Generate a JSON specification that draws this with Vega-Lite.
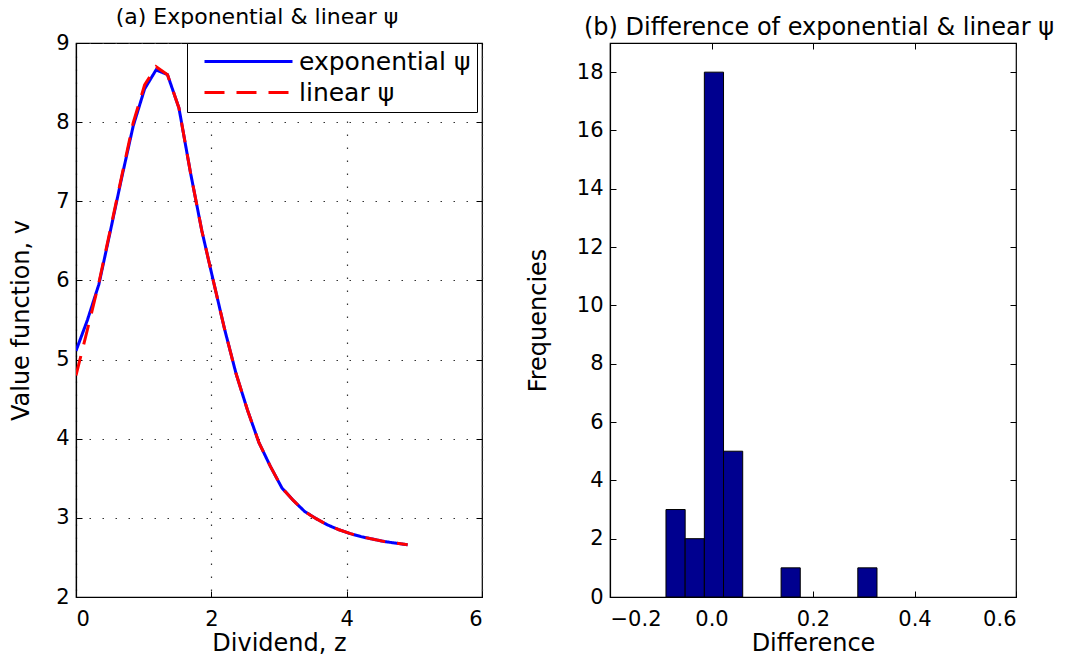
{
  "$schema": "https://vega.github.io/schema/vega-lite/v6.json",
  "padding": {"left": 8, "top": 5, "right": 0, "bottom": 0},
  "background": "white",
  "bounds": "flush",
  "spacing": 128,
  "config": {
    "font": "DejaVu Sans",
    "view": {"stroke": "black", "strokeWidth": 1.2},
    "axis": {
      "labelFont": "DejaVu Sans", "titleFont": "DejaVu Sans",
      "labelFontSize": 21, "titleFontSize": 24, "titleFontWeight": "normal",
      "labelColor": "black", "titleColor": "black",
      "domainColor": "black", "domainWidth": 1.2, "tickColor": "black", "tickWidth": 1,
      "tickSize": -6, "labelPadding": 13
    },
    "title": {"font": "DejaVu Sans", "fontSize": 22, "fontWeight": "normal", "color": "black", "offset": 3},
    "legend": {"labelFont": "DejaVu Sans", "labelFontSize": 25, "labelColor": "black", "labelLimit": 400}
  },
  "datasets": {
    "curves": [
      {"z": 0.000, "v": 5.11, "series": "exponential ψ"},
      {"z": 0.169, "v": 5.50, "series": "exponential ψ"},
      {"z": 0.338, "v": 5.95, "series": "exponential ψ"},
      {"z": 0.507, "v": 6.62, "series": "exponential ψ"},
      {"z": 0.676, "v": 7.30, "series": "exponential ψ"},
      {"z": 0.845, "v": 7.95, "series": "exponential ψ"},
      {"z": 1.014, "v": 8.42, "series": "exponential ψ"},
      {"z": 1.183, "v": 8.66, "series": "exponential ψ"},
      {"z": 1.352, "v": 8.60, "series": "exponential ψ"},
      {"z": 1.521, "v": 8.18, "series": "exponential ψ"},
      {"z": 1.690, "v": 7.37, "series": "exponential ψ"},
      {"z": 1.859, "v": 6.63, "series": "exponential ψ"},
      {"z": 2.028, "v": 6.00, "series": "exponential ψ"},
      {"z": 2.197, "v": 5.38, "series": "exponential ψ"},
      {"z": 2.366, "v": 4.82, "series": "exponential ψ"},
      {"z": 2.535, "v": 4.36, "series": "exponential ψ"},
      {"z": 2.704, "v": 3.95, "series": "exponential ψ"},
      {"z": 2.873, "v": 3.65, "series": "exponential ψ"},
      {"z": 3.042, "v": 3.38, "series": "exponential ψ"},
      {"z": 3.211, "v": 3.22, "series": "exponential ψ"},
      {"z": 3.380, "v": 3.08, "series": "exponential ψ"},
      {"z": 3.549, "v": 2.99, "series": "exponential ψ"},
      {"z": 3.718, "v": 2.91, "series": "exponential ψ"},
      {"z": 3.887, "v": 2.85, "series": "exponential ψ"},
      {"z": 4.056, "v": 2.80, "series": "exponential ψ"},
      {"z": 4.225, "v": 2.76, "series": "exponential ψ"},
      {"z": 4.394, "v": 2.73, "series": "exponential ψ"},
      {"z": 4.563, "v": 2.70, "series": "exponential ψ"},
      {"z": 4.732, "v": 2.68, "series": "exponential ψ"},
      {"z": 4.901, "v": 2.66, "series": "exponential ψ"},
      {"z": 0.000, "v": 4.80, "series": "linear ψ"},
      {"z": 0.169, "v": 5.38, "series": "linear ψ"},
      {"z": 0.338, "v": 5.97, "series": "linear ψ"},
      {"z": 0.507, "v": 6.64, "series": "linear ψ"},
      {"z": 0.676, "v": 7.32, "series": "linear ψ"},
      {"z": 0.845, "v": 7.99, "series": "linear ψ"},
      {"z": 1.014, "v": 8.47, "series": "linear ψ"},
      {"z": 1.183, "v": 8.70, "series": "linear ψ"},
      {"z": 1.352, "v": 8.60, "series": "linear ψ"},
      {"z": 1.521, "v": 8.18, "series": "linear ψ"},
      {"z": 1.690, "v": 7.37, "series": "linear ψ"},
      {"z": 1.859, "v": 6.63, "series": "linear ψ"},
      {"z": 2.028, "v": 6.00, "series": "linear ψ"},
      {"z": 2.197, "v": 5.38, "series": "linear ψ"},
      {"z": 2.366, "v": 4.82, "series": "linear ψ"},
      {"z": 2.535, "v": 4.36, "series": "linear ψ"},
      {"z": 2.704, "v": 3.95, "series": "linear ψ"},
      {"z": 2.873, "v": 3.65, "series": "linear ψ"},
      {"z": 3.042, "v": 3.38, "series": "linear ψ"},
      {"z": 3.211, "v": 3.22, "series": "linear ψ"},
      {"z": 3.380, "v": 3.08, "series": "linear ψ"},
      {"z": 3.549, "v": 2.99, "series": "linear ψ"},
      {"z": 3.718, "v": 2.91, "series": "linear ψ"},
      {"z": 3.887, "v": 2.85, "series": "linear ψ"},
      {"z": 4.056, "v": 2.80, "series": "linear ψ"},
      {"z": 4.225, "v": 2.76, "series": "linear ψ"},
      {"z": 4.394, "v": 2.73, "series": "linear ψ"},
      {"z": 4.563, "v": 2.70, "series": "linear ψ"},
      {"z": 4.732, "v": 2.68, "series": "linear ψ"},
      {"z": 4.901, "v": 2.66, "series": "linear ψ"}
    ],
    "hist": [
      {"lo": -0.0897, "hi": -0.0519, "count": 3},
      {"lo": -0.0519, "hi": -0.0141, "count": 2},
      {"lo": -0.0141, "hi": 0.0237, "count": 18},
      {"lo": 0.0237, "hi": 0.0615, "count": 5},
      {"lo": 0.1371, "hi": 0.1749, "count": 1},
      {"lo": 0.2883, "hi": 0.3261, "count": 1}
    ]
  },
  "hconcat": [
    {
      "width": 406, "height": 554,
      "title": {"text": "(a) Exponential & linear ψ", "dx": -22},
      "data": {"name": "curves"},
      "layer": [
        {
          "mark": {"type": "line", "strokeWidth": 3, "clip": true},
          "encoding": {
            "x": {"field": "z", "type": "quantitative", "scale": {"domain": [0, 6], "nice": false},
                  "axis": {"title": "Dividend, z", "values": [0, 2, 4, 6], "grid": true, "gridDash": [1.5, 11.5], "gridColor": "#333", "gridWidth": 1.2, "labelPadding": 17, "titlePadding": 2}},
            "y": {"field": "v", "type": "quantitative", "scale": {"domain": [2, 9], "nice": false, "zero": false},
                  "axis": {"title": "Value function, v", "values": [2, 3, 4, 5, 6, 7, 8, 9], "grid": true, "gridDash": [1.5, 11.5], "gridColor": "#333", "gridWidth": 1.2, "titleX": -43}},
            "color": {"field": "series", "type": "nominal",
                      "scale": {"domain": ["exponential ψ", "linear ψ"], "range": ["#0000ff", "#ff0000"]},
                      "legend": {"title": null, "orient": "none", "legendX": 111, "legendY": 0, "strokeColor": "black", "fillColor": "white",
                                 "padding": 6, "symbolType": "M-10,0H10", "symbolSize": 77.44, "symbolStrokeWidth": 3, "symbolOffset": 43,
                                 "rowPadding": 5, "labelOffset": 38, "cornerRadius": 0}},
            "strokeDash": {"field": "series", "type": "nominal",
                           "scale": {"domain": ["exponential ψ", "linear ψ"], "range": [[1, 0], [20, 12]]},
                           "legend": {"title": null, "orient": "none", "legendX": 111, "legendY": 0, "strokeColor": "black", "fillColor": "white",
                                      "padding": 6, "symbolType": "M-10,0H10", "symbolSize": 77.44, "symbolStrokeWidth": 3, "symbolOffset": 43,
                                      "rowPadding": 5, "labelOffset": 38, "cornerRadius": 0}}
          }
        },
        {
          "mark": {"type": "rule", "opacity": 0},
          "encoding": {
            "x": {"field": "z", "type": "quantitative", "axis": {"orient": "top", "labels": false, "title": null, "values": [0, 2, 4, 6], "domain": false}},
            "y": {"field": "v", "type": "quantitative", "axis": {"orient": "right", "labels": false, "title": null, "values": [2, 3, 4, 5, 6, 7, 8, 9], "domain": false}}
          }
        }
      ],
      "resolve": {"axis": {"x": "independent", "y": "independent"}}
    },
    {
      "width": 406, "height": 554,
      "title": {"text": "(b) Difference of exponential & linear ψ", "dx": 6, "fontSize": 24},
      "data": {"name": "hist"},
      "layer": [
        {
          "mark": {"type": "rect", "color": "#00008f", "stroke": "black", "strokeWidth": 1},
          "encoding": {
            "x": {"field": "lo", "type": "quantitative", "scale": {"domain": [-0.2, 0.6], "nice": false},
                  "axis": {"title": "Difference", "values": [-0.2, 0, 0.2, 0.4, 0.6], "format": ".1f", "grid": false, "labelPadding": 17, "titlePadding": 2}},
            "x2": {"field": "hi"},
            "y": {"field": "count", "type": "quantitative", "scale": {"domain": [0, 19], "nice": false},
                  "axis": {"title": "Frequencies", "values": [0, 2, 4, 6, 8, 10, 12, 14, 16, 18], "grid": false, "titleX": -60}},
            "y2": {"datum": 0}
          }
        },
        {
          "mark": {"type": "rule", "opacity": 0},
          "encoding": {
            "x": {"field": "lo", "type": "quantitative", "axis": {"orient": "top", "labels": false, "title": null, "values": [-0.2, 0, 0.2, 0.4, 0.6], "domain": false}},
            "y": {"field": "count", "type": "quantitative", "axis": {"orient": "right", "labels": false, "title": null, "values": [0, 2, 4, 6, 8, 10, 12, 14, 16, 18], "domain": false}}
          }
        }
      ],
      "resolve": {"axis": {"x": "independent", "y": "independent"}}
    }
  ]
}
